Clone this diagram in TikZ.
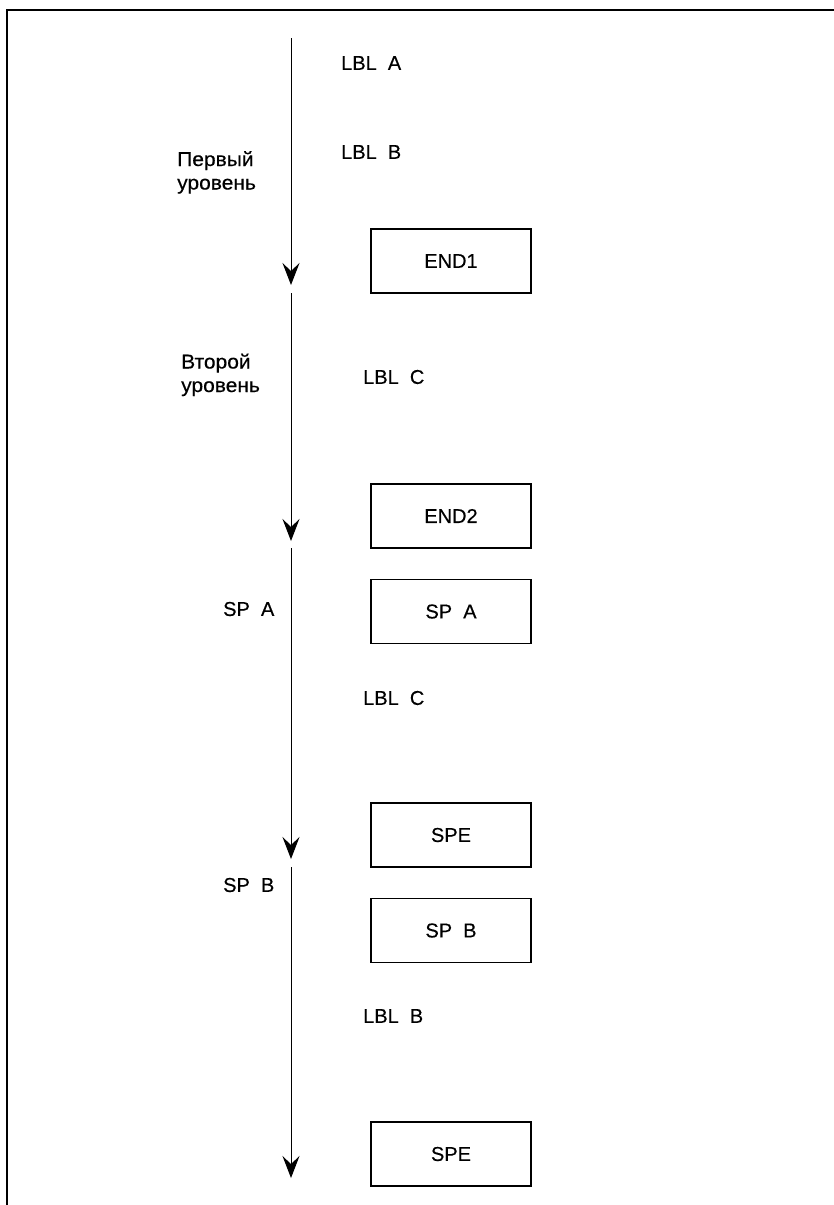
\documentclass[tikz,border=0pt]{standalone}
\usepackage{fontspec}
\setmainfont{Liberation Sans}[FakeBold=0.4]
\newfontfamily\cyrwide{Liberation Sans}[FakeStretch=1.05,FakeBold=0.4]
\usetikzlibrary{arrows.meta}
\begin{document}
\begin{tikzpicture}[x=1pt,y=-1pt,
  txt/.style={font=\fontsize{20}{23.5}\selectfont},
  box/.style={txt,draw,line width=1.3pt,minimum width=160pt,minimum height=64pt,inner sep=0pt},
  lbl/.style={txt,inner sep=0pt,anchor=west},
  lbltwo/.style={font=\cyrwide\fontsize{20}{23.5}\selectfont,inner sep=0pt,anchor=base west,align=left},
  arr/.style={line width=1pt,-{Stealth[length=22pt,width=17pt,inset=8pt]}},
  frame/.style={line width=2pt}]
\useasboundingbox (0,0) rectangle (834,1205);
% frame
\coordinate (f1) at (7,1205);
\coordinate (f2) at (7,10);
\coordinate (f3) at (834,10);
\draw[frame] (f1) -- (f2) -- (f3);
% arrow coordinates
\coordinate (a1s) at (291,38);   \coordinate (a1e) at (291,285);
\coordinate (a2s) at (291,293);  \coordinate (a2e) at (291,541);
\coordinate (a3s) at (291,548);  \coordinate (a3e) at (291,859);
\coordinate (a4s) at (291,867);  \coordinate (a4e) at (291,1178);
\draw[arr] (a1s) -- (a1e);
\draw[arr] (a2s) -- (a2e);
\draw[arr] (a3s) -- (a3e);
\draw[arr] (a4s) -- (a4e);
% boxes
\node[box] (end1) at (451,261) {END1};
\node[box] (end2) at (451,516) {END2};
\node[box] (spa)  at (451,611.5) {SP\ \ A};
\node[box] (spe1) at (451,835) {SPE};
\node[box] (spb)  at (451,930.5) {SP\ \ B};
\node[box] (spe2) at (451,1154) {SPE};
% labels
\node[lbl] (la) at (341,63) {LBL\ \ A};
\node[lbl] (lb) at (341,152) {LBL\ \ B};
\node[lbltwo] (l1) at (177,189.5) {Первый\\уровень};
\node[lbltwo] (l2) at (181,392) {Второй\\уровень};
\node[lbl] (lc1) at (363,377) {LBL\ \ C};
\node[lbl] (spal) at (223,609) {SP\ \ A};
\node[lbl] (lc2) at (363,698) {LBL\ \ C};
\node[lbl] (spbl) at (223,885) {SP\ \ B};
\node[lbl] (lb2) at (363,1016) {LBL\ \ B};
\end{tikzpicture}
\end{document}
